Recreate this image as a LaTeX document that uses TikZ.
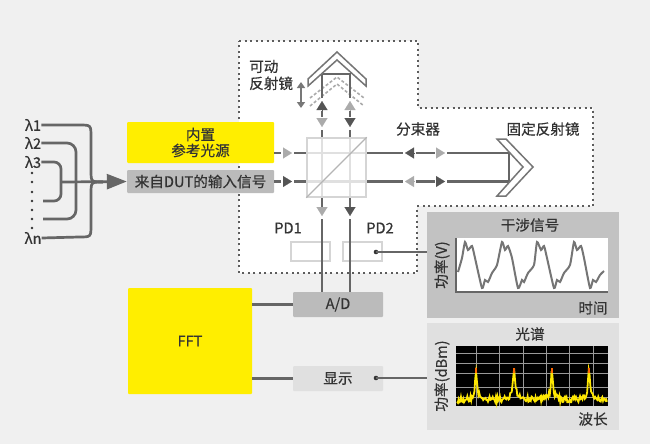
\documentclass[tikz,border=0pt]{standalone}
\usepackage{fontspec}
\setmainfont{Noto Sans CJK SC}[FakeBold=0.5]
\usepackage{xcolor}
\usepackage{tikz}
\usetikzlibrary{arrows.meta}
\definecolor{pagegray}{HTML}{F0F0F0}
\definecolor{inkgray}{HTML}{333333}
\definecolor{beamgray}{HTML}{666666}
\definecolor{tipdark}{HTML}{555555}
\definecolor{tiplight}{HTML}{ABABAB}
\definecolor{edgegray}{HTML}{D5D5D5}
\definecolor{panelgray}{HTML}{C2C2C2}
\definecolor{panellight}{HTML}{E0E0E0}
\definecolor{boxgray}{HTML}{BBBBBB}
\definecolor{refyellow}{HTML}{FFEE00}

\begin{document}
\begin{tikzpicture}[x=1pt,y=-1pt,
    every node/.style={text=inkgray,font=\fontsize{14.6}{17}\selectfont,inner sep=0pt,align=center},
    box/.style={minimum width=#1,rounded corners=1pt,draw=none},
    beam/.style={draw=beamgray,line width=2.5pt},
    fibre/.style={draw=beamgray,line width=2.7pt},
    wire/.style={draw=beamgray,line width=1.9pt},
    tipd/.style={draw=tipdark,line width=.1pt,-{Triangle[length=9pt,width=11pt,fill=tipdark]}},
    tipl/.style={draw=tiplight,line width=.1pt,-{Triangle[length=9pt,width=11pt,fill=tiplight]}},
    mirror/.style={draw=beamgray!90,fill=white,line width=1.5pt,line join=miter},
    ghost/.style={draw=tiplight,line width=1.6pt,dash pattern=on 3pt off 2pt},
    pdbox/.style={draw=edgegray,fill=white,line width=1.4pt,minimum width=39pt,minimum height=19pt}]
  \fill[pagegray] (0,0) rectangle (650,444);
  \useasboundingbox (0,0) rectangle (650,444);

  % white optics area
  \fill[white] (239,41) -- (418,41) -- (418,108) -- (593,108) -- (593,206) -- (417,206) -- (417,273) -- (239,273) -- cycle;
  \draw[inkgray!80,line width=2pt,dash pattern=on 2pt off 3.5pt] (239,41) -- (418,41) -- (418,108) -- (593,108) -- (593,206) -- (417,206) -- (417,273) -- (239,273) -- cycle;

  % source boxes
  \node[box=147pt,fill=refyellow,minimum height=41pt] (refsrc) at (200.5,142.5) {内置\\[-1pt]参考光源};
  \node[box=147pt,fill=boxgray,minimum height=23pt] (dutin) at (200.5,181.5) {来自DUT的输入信号};
  \coordinate (refout) at (274,153);

  % wavelength inputs
  \node (l1) at (33,125) {λ1};
  \node (l2) at (33,143) {λ2};
  \node (l3) at (33,162) {λ3};
  \node (ln) at (33,238) {λn};
  \coordinate (l3b) at (43,201);
  \coordinate (l2b) at (43,219);
  \coordinate (merge) at (61,182);
  \foreach \dy in {173,182,192,201,210,219,228}
    \fill[inkgray] (32,\dy) circle (1.3pt);
  \draw[fibre,rounded corners=7pt] (l3.east) -- (61,162) -- (61,201) -- (l3b);
  \draw[fibre,rounded corners=9pt] (l2.east) -- (76,143) -- (76,219) -- (l2b);
  \draw[fibre] (l1.east) -- (79,125) .. controls (91,125) .. (91,137) -- (91,170) .. controls (91,182) .. (103,182);
  \draw[fibre] (ln.east) -- (79,237) .. controls (91,237) .. (91,225) -- (91,194) .. controls (91,182) .. (103,182);
  \draw[fibre,-{Triangle[length=20pt,width=15pt,fill=beamgray]}] (merge) -- (dutin.west);

  % beams behind the cube
  \draw[beam] (294,153) -- (403,153);
  \draw[beam] (294,181.5) -- (403,181.5);
  \draw[beam] (322,130) -- (322,207);
  \draw[beam] (350,130) -- (350,207);
  \node[draw=edgegray,fill=white,fill opacity=.8,line width=1.4pt,minimum width=59pt,minimum height=59pt] (cube) at (336.5,167.5) {};
  \draw[edgegray!85!black,line width=1.4pt] (cube.north east) -- (cube.south west);

  % input side
  \draw[beam] (refout) -- (281,153);
  \draw[beam] (dutin.east) -- (281,181.5);
  \draw[tipl] (283,153) -- (292,153);
  \draw[tipd] (283,181.5) -- (292,181.5);

  % fixed mirror arm
  \node (splitlbl) at (418,129) {分束器};
  \node (fixlbl) at (543,129) {固定反射镜};
  \draw[beam] (416,153) -- (435,153);
  \draw[beam] (416,181.5) -- (435,181.5);
  \draw[tipd] (414,153) -- (405,153);
  \draw[tipl] (436,153) -- (445,153);
  \draw[tipl] (414,181.5) -- (405,181.5);
  \draw[tipd] (436,181.5) -- (445,181.5);
  \draw[beam] (447,153) -- (509,153) -- (509,181.5) -- (447,181.5);
  \draw[mirror] (497,139) -- (506,139) -- (533,167) -- (506,196) -- (497,196) -- (523,167) -- cycle;

  % moving mirror arm
  \node[anchor=west,align=left] (movlbl) at (249,75) {可动\\反射镜};
  \draw[ghost] (310,98) -- (337,77) -- (364,98);
  \draw[ghost] (310,106) -- (337,84) -- (364,106);
  \draw[beam] (322,98) -- (322,74) -- (350,74) -- (350,98);
  \draw[mirror] (337,52) -- (366,79) -- (366,86) -- (337,60) -- (308,86) -- (308,79) -- cycle;
  \draw[tipd] (322,110) -- (322,101);
  \draw[tipl] (350,110) -- (350,101);
  \draw[beam] (322,111) -- (322,117);
  \draw[beam] (350,111) -- (350,117);
  \draw[tipl] (322,118) -- (322,127);
  \draw[tipd] (350,118) -- (350,127);
  \draw[tiplight!70!black,line width=1.6pt,{Triangle[length=6pt,width=8pt]}-{Triangle[length=6pt,width=8pt]}] (301,82) -- (301,108);

  % detectors
  \node (pdonelbl) at (288,228) {PD1};
  \node (pdtwolbl) at (380,228) {PD2};
  \node[pdbox] (pdone) at (310.5,251.5) {};
  \node[pdbox] (pdtwo) at (362.5,251.5) {};
  \draw[tipl] (322,207) -- (322,216);
  \draw[tipd] (350,207) -- (350,216);

  % processing boxes
  \node[box=90pt,fill=boxgray,minimum height=25pt] (adc) at (338,304.5) {A/D};
  \node[box=90pt,fill=panellight,minimum height=25pt] (disp) at (338,378.5) {显示};
  \node[box=124pt,fill=refyellow,minimum height=106pt] (fft) at (190,341) {FFT};
  \draw[beam] (322,219) -- (322,292);
  \draw[beam] (350,219) -- (350,292);
  \draw[beam] (adc.west) -- (adc.west -| fft.east);
  \draw[beam] (disp.west) -- (disp.west -| fft.east);

  % interference panel
  \fill[panelgray] (427,212) rectangle (619,318);
  \fill[white] (456,238) rectangle (608,292);
  \node (sigtitle) at (530,225) {干涉信号};
  \node[rotate=90] (sigy) at (442,265) {功率(V)};
  \node (sigx) at (593,308) {时间};
  \draw[beamgray,line width=1.2pt] (456,238) -- (456,292) -- (608,292);
  \draw[beamgray!90,line width=2pt] plot[smooth,tension=.35] coordinates {(458,272) (462,258) (465,242) (468,250) (472,246) (475,258) (482,288) (485,280) (488,282) (492,273) (497,265) (502,242) (505,250) (508,246) (512,258) (518,288) (522,280) (524,282) (528,273) (534,265) (537,242) (541,250) (544,246) (547,258) (554,288) (557,280) (560,282) (564,273) (570,265) (574,242) (577,250) (581,246) (584,258) (590,288) (593,280) (596,282) (600,275) (604,271)};
  \coordinate (sigin) at (427,252);
  \fill[inkgray] (376,252) coordinate (pdout) circle (2.3pt);
  \draw[wire] (pdout) -- (sigin);

  % spectrum panel
  \fill[panellight] (427,323) rectangle (619,430);
  \fill[black] (456,346) rectangle (608,406);
  \node (spectitle) at (530,334) {光谱};
  \node[rotate=90] (specy) at (442,376) {功率(dBm)};
  \node (specx) at (593,419) {波长};
  \foreach \gx in {476,499,523,546,569,593}
    \draw[gray!80,line width=.9pt] (\gx,346) -- (\gx,406);
  \foreach \gy in {353,363,373,387,397}
    \draw[gray!80,line width=.9pt] (456,\gy) -- (608,\gy);
  \pgfmathsetseed{17}
  \draw[yellow!90!orange,line width=1.8pt] plot[domain=457:607,samples=190] (\x,{400-3*rand-25/(1+((\x-476)/1.1)^2)-25/(1+((\x-514)/1.1)^2)-25/(1+((\x-552)/1.1)^2)-25/(1+((\x-589)/1.1)^2)-4/(1+((\x-476)/3)^2)-6/(1+((\x-514)/4)^2)-4/(1+((\x-552)/3)^2)-4/(1+((\x-589)/3)^2)});
  \foreach \px in {476,514,552,589}
    \draw[orange!80!red,line width=1.6pt] (\px,368) -- (\px,373);
  \coordinate (specin) at (427,378);
  \fill[inkgray] (376,378) coordinate (dispout) circle (2.3pt);
  \draw[wire] (dispout) -- (specin);
\end{tikzpicture}
\end{document}
